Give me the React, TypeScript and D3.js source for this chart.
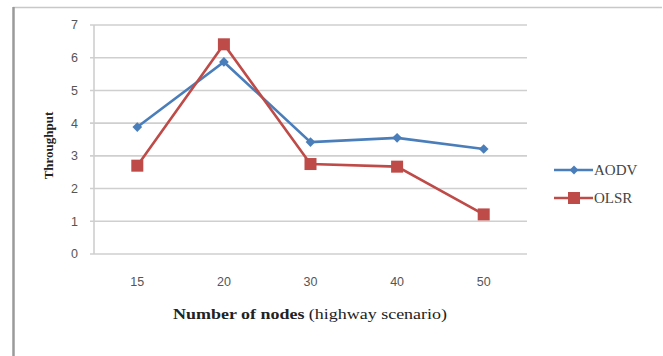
import React from "react";
import * as d3 from "d3";

const categories = ["15", "20", "30", "40", "50"];
const aodv = [3.88, 5.87, 3.42, 3.55, 3.21];
const olsr = [2.7, 6.41, 2.75, 2.67, 1.21];
const yTicks = [0, 1, 2, 3, 4, 5, 6, 7];

const W = 663;
const H = 356;
const plot = { left: 94, right: 527, top: 25, bottom: 254 };

const BLUE = "#4A7EBB";
const RED = "#BE4B48";

export default function App() {
  const x = d3
    .scaleBand<string>()
    .domain(categories)
    .range([plot.left, plot.right])
    .paddingInner(0)
    .paddingOuter(0);
  const y = d3.scaleLinear().domain([0, 7]).range([plot.bottom, plot.top]);
  const cx = (c: string) => (x(c) ?? 0) + x.bandwidth() / 2;

  const line = d3
    .line<number>()
    .x((_, i) => cx(categories[i]))
    .y((d) => y(d));

  const sans = "'Liberation Sans', Arial, sans-serif";
  const serif = "'Liberation Serif', 'Times New Roman', serif";

  return (
    <svg
      width={W}
      height={H}
      style={{ position: "absolute", left: 0, top: 0, display: "block", background: "#fff" }}
    >
      {/* outer frame */}
      <line x1={13} x2={662} y1={7.5} y2={7.5} stroke="#c8c8c8" strokeWidth={1.5} />
      <line x1={13.5} x2={13.5} y1={7} y2={H} stroke="#9a9a9a" strokeWidth={2.5} />

      {/* horizontal gridlines */}
      {yTicks.map((t) => (
        <line
          key={t}
          x1={plot.left - 4}
          x2={plot.right}
          y1={y(t)}
          y2={y(t)}
          stroke="#cfcfcf"
          strokeWidth={1.6}
        />
      ))}
      {/* value axis line */}
      <line x1={plot.left} x2={plot.left} y1={plot.top} y2={plot.bottom} stroke="#cfcfcf" strokeWidth={1.6} />

      {/* y tick labels */}
      {yTicks.map((t) => (
        <text
          key={t}
          x={78}
          y={y(t)}
          dy="0.35em"
          textAnchor="end"
          fontFamily={sans}
          fontSize={12.5}
          fill="#555"
        >
          {t}
        </text>
      ))}

      {/* x tick labels */}
      {categories.map((c) => (
        <text
          key={c}
          x={cx(c)}
          y={282}
          dy="0.35em"
          textAnchor="middle"
          fontFamily={sans}
          fontSize={12.5}
          fill="#555"
        >
          {c}
        </text>
      ))}

      {/* axis titles */}
      <text
        x={173}
        y={314}
        dy="0.35em"
        textAnchor="start"
        fontFamily={serif}
        fontSize={15}
        fill="#222"
        textLength={274}
        lengthAdjust="spacingAndGlyphs"
      >
        <tspan fontWeight="bold">Number of nodes</tspan>
        <tspan> (highway scenario)</tspan>
      </text>
      <text
        transform={`translate(48,${(plot.top + plot.bottom) / 2 + 6}) rotate(-90)`}
        dy="0.35em"
        textAnchor="middle"
        fontFamily={serif}
        fontSize={13}
        fontWeight="bold"
        fill="#222"
      >
        Throughput
      </text>

      {/* AODV series */}
      <path d={line(aodv) ?? ""} fill="none" stroke={BLUE} strokeWidth={2.6} />
      {aodv.map((v, i) => (
        <path
          key={i}
          d={d3.symbol(d3.symbolDiamond2, 60)() ?? ""}
          transform={`translate(${cx(categories[i])},${y(v)})`}
          fill={BLUE}
        />
      ))}

      {/* OLSR series */}
      <path d={line(olsr) ?? ""} fill="none" stroke={RED} strokeWidth={2.6} />
      {olsr.map((v, i) => (
        <rect
          key={i}
          x={cx(categories[i]) - 6}
          y={y(v) - 6}
          width={12}
          height={12}
          fill={RED}
        />
      ))}

      {/* legend */}
      <g>
        <line x1={554} x2={593} y1={170} y2={170} stroke={BLUE} strokeWidth={2.6} />
        <path
          d={d3.symbol(d3.symbolDiamond2, 50)() ?? ""}
          transform="translate(574,170)"
          fill={BLUE}
        />
        <text x={594} y={170} dy="0.35em" fontFamily={serif} fontSize={15} fill="#444">
          AODV
        </text>
        <line x1={554} x2={593} y1={198} y2={198} stroke={RED} strokeWidth={2.6} />
        <rect x={568} y={192} width={12} height={12} fill={RED} />
        <text x={594} y={198} dy="0.35em" fontFamily={serif} fontSize={15} fill="#444">
          OLSR
        </text>
      </g>
    </svg>
  );
}
